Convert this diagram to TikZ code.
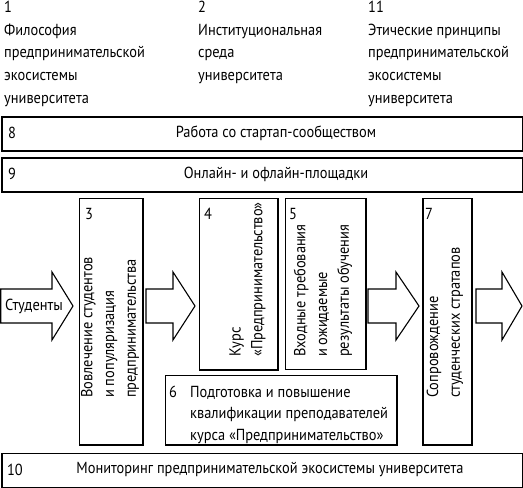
\documentclass[tikz,border=0pt]{standalone}
\usepackage{fontspec}
\setmainfont[FakeStretch=0.9]{PT Sans}
\begin{document}
\begin{tikzpicture}[x=1pt,y=-1pt,
  box/.style={draw, line width=1.6pt, inner sep=0pt, anchor=north west},
  lbl/.style={inner sep=0pt, font=\fontsize{16}{22.7}\selectfont},
  vlbl/.style={lbl, rotate=90, anchor=west, align=left, font=\fontsize{16}{21.8}\selectfont},
  arr/.style={draw, line width=1.1pt, fill=white, line join=miter}]
\useasboundingbox (0,0) rectangle (523,488);
% top texts
\node[lbl, anchor=north west, align=left] (top1) at (4,1) {1\\Философия\\предпринимательской\\экосистемы\\университета};
\node[lbl, anchor=north west, align=left] (top2) at (198,1) {2\\Институциональная\\среда\\университета};
\node[lbl, anchor=north west, align=left] (top3) at (368,1) {11\\Этические принципы\\предпринимательской\\экосистемы\\университета};
% wide boxes
\node[box, minimum width=521pt, minimum height=34pt] (b8) at (1,116) {};
\node[lbl] (n8) at (12,133) {8};
\node[lbl] (t8) at (276,133) {Работа со стартап-сообществом};
\node[box, minimum width=521pt, minimum height=34pt] (b9) at (1,157) {};
\node[lbl] (n9) at (12,174) {9};
\node[lbl] (t9) at (276,174) {Онлайн- и офлайн-площадки};
\node[box, minimum width=520.5pt, minimum height=34pt] (b10) at (1,452.5) {};
\node[lbl] (n10) at (15,469.5) {10};
\node[lbl] (t10) at (270,469.5) {Мониторинг предпринимательской экосистемы университета};
% vertical boxes
\node[box, minimum width=63.5pt, minimum height=246.5pt] (b3) at (78.5,197.5) {};
\node[box, minimum width=78.5pt, minimum height=171.5pt] (b4) at (198.5,197.5) {};
\node[box, minimum width=80.5pt, minimum height=171pt] (b5) at (284.5,197.5) {};
\node[box, minimum width=231.5pt, minimum height=69.5pt] (b6) at (164.5,374.5) {};
\node[box, minimum width=49pt, minimum height=246.5pt] (b7) at (422,197.5) {};
\node[lbl] (n3) at (89,214) {3};
\node[lbl] (n4) at (208,214) {4};
\node[lbl] (n5) at (293,214) {5};
\node[lbl] (n7) at (429,214) {7};
\node[lbl] (n6) at (173,392) {6};
\node[vlbl] (t3) at (110,398) {Вовлечение студентов\\и популяризация\\предпринимательства};
\node[vlbl] (t4) at (247.5,357) {Курс\\«Предпринимательство»};
\node[vlbl] (t5) at (323,357) {Входные требования\\и ожидаемые\\результаты обучения};
\node[vlbl] (t7) at (445,398) {Сопровождение\\студенческих стратапов};
\node[lbl, anchor=north west, align=left, font=\fontsize{16}{21.5}\selectfont] (t6) at (190,386) {Подготовка и повышение\\квалификации преподавателей\\курса «Предпринимательство»};
% block arrows
\draw[arr] (0.8,289) -- (52,289) -- (52,272) -- (73,306) -- (52,340) -- (52,323) -- (0.8,323) -- cycle;
\node[lbl] (stud) at (34,306) {Студенты};
\draw[arr] (146,289) -- (173,289) -- (173,272) -- (195,306) -- (173,340) -- (173,323) -- (146,323) -- cycle;
\draw[arr] (368,289) -- (396,289) -- (396,272) -- (419,306) -- (396,340) -- (396,323) -- (368,323) -- cycle;
\draw[arr] (476,289) -- (502,289) -- (502,272) -- (522,306) -- (502,340) -- (502,323) -- (476,323) -- cycle;
\end{tikzpicture}
\end{document}
